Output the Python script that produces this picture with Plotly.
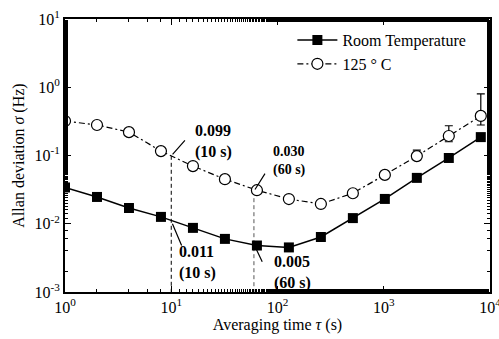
import plotly.graph_objects as go
import math

tau = [1, 2, 4, 8, 16, 32, 64, 128, 256, 512, 1024, 2048, 4096, 8192]
room_temp = [0.034, 0.0247, 0.017, 0.0126, 0.0087, 0.006, 0.0048, 0.0045,
             0.0064, 0.0121, 0.0231, 0.047, 0.092, 0.186]
hot_125 = [0.32, 0.28, 0.22, 0.116, 0.07, 0.045, 0.031, 0.023,
           0.0195, 0.028, 0.052, 0.098, 0.193, 0.38]
hot_err_plus = [0, 0, 0, 0, 0, 0, 0, 0, 0, 0, 0, 0.022, 0.08, 0.42]
hot_err_minus = [0, 0, 0, 0, 0, 0, 0, 0, 0, 0, 0, 0.012, 0.034, 0.10]

xticks = [1, 10, 100, 1000, 10000]
xticktext = ["10<sup>0</sup>", "10<sup>1</sup>", "10<sup>2</sup>", "10<sup>3</sup>", "10<sup>4</sup>"]
yticks = [0.001, 0.01, 0.1, 1, 10]
yticktext = ["10<sup>-3</sup>", "10<sup>-2</sup>", "10<sup>-1</sup>", "10<sup>0</sup>", "10<sup>1</sup>"]

marks = [(10, 0.099, 0.011), (60, 0.030, 0.005)]

FONT = "Liberation Serif"
fig = go.Figure()

for (t, vh, vr), col in zip(marks, ["black", "#555555"]):
    fig.add_trace(go.Scatter(x=[t, t], y=[vh, 0.001], mode="lines",
                             line=dict(color=col, width=1, dash="4px,3px"),
                             showlegend=False, hoverinfo="skip"))

fig.add_trace(go.Scatter(x=tau, y=room_temp, mode="lines+markers",
                         name="Room Temperature",
                         line=dict(color="black", width=1.5),
                         marker=dict(symbol="square", size=10, color="black")))
fig.add_trace(go.Scatter(x=tau, y=hot_125, mode="lines+markers",
                         name="125 ° C",
                         line=dict(color="black", width=1.2, dash="6px,3px,2px,3px"),
                         marker=dict(symbol="circle", size=11, color="white",
                                     line=dict(color="black", width=1.2)),
                         error_y=dict(type="data", symmetric=False, array=hot_err_plus,
                                      arrayminus=hot_err_minus, color="black",
                                      thickness=1.2, width=4)))

def ann_line(x, y, ax, ay, standoff):
    fig.add_annotation(x=math.log10(x), y=math.log10(y), ax=ax, ay=ay, text="",
                       showarrow=True, arrowhead=0, arrowwidth=1.2, arrowcolor="black",
                       standoff=standoff, xref="x", yref="y")

def ann_text(x, y, xs, ys, text, size):
    fig.add_annotation(x=math.log10(x), y=math.log10(y), xshift=xs, yshift=ys,
                       text=text, showarrow=False, xanchor="left", yanchor="middle",
                       align="left", font=dict(family=FONT, size=size, color="black"))

ann_line(10, 0.099, 15, -17, 2)
ann_text(10, 0.099, 22, 14, "<b>0.099<br>(10 s)</b>", 16)
ann_line(10, 0.011, 11, 26, 3)
ann_text(10, 0.011, 6, -42, "<b>0.011<br>(10 s)</b>", 16)
ann_line(60, 0.030, 12, -19, 2)
ann_text(60, 0.030, 17, 30, "<b>0.030<br>(60 s)</b>", 14)
ann_line(60, 0.005, 9, 19, 5)
ann_text(60, 0.005, 18, -28, "<b>0.005<br>(60 s)</b>", 16)

axis_common = dict(type="log", showline=True, linecolor="black", linewidth=2,
                   mirror="allticks", ticks="inside", ticklen=6, tickwidth=1,
                   tickcolor="black", showgrid=False, zeroline=False,
                   ticklabeloverflow="allow", automargin=False,
                   minor=dict(ticks="inside", ticklen=3, tickwidth=1, tickcolor="black",
                              showgrid=False),
                   tickfont=dict(family=FONT, size=16, color="black"))

fig.update_xaxes(range=[0, 4], tickvals=xticks, ticktext=xticktext,
                 title=dict(text="Averaging time <i>τ</i> (s)",
                            font=dict(family=FONT, size=16, color="black"), standoff=0),
                 **axis_common)
fig.update_yaxes(range=[-3, 1], tickvals=yticks, ticktext=yticktext,
                 title=dict(text="Allan deviation <i>σ</i> (Hz)",
                            font=dict(family=FONT, size=16, color="black"), standoff=6),
                 **axis_common)

fig.update_layout(width=499, height=339,
                  margin=dict(l=65, r=9, t=19, b=47),
                  paper_bgcolor="white", plot_bgcolor="white",
                  font=dict(family=FONT, size=16, color="black"),
                  legend=dict(x=0.535, y=0.985, xanchor="left", yanchor="top",
                              bgcolor="rgba(0,0,0,0)",
                              font=dict(family=FONT, size=16, color="black"),
                              tracegroupgap=0, itemwidth=40))

fig.write_html("out.html")
